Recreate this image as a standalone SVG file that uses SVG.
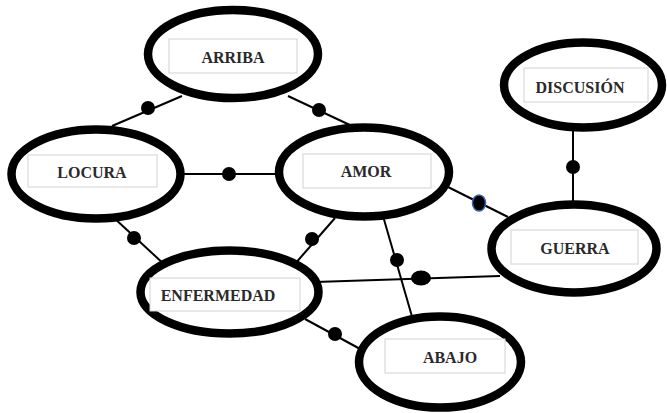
<svg xmlns="http://www.w3.org/2000/svg" width="667" height="413" viewBox="0 0 667 413">
  <style>
    .edge { stroke: #000; stroke-width: 2; fill: none; }
    .dot { fill: #000; }
    .dot-sel { fill: #000; stroke: #3b63b5; stroke-width: 1.5; }
    .ring { fill: #fff; stroke: #000; stroke-width: 8.5; }
    .box { fill: #fff; stroke: #d2d2d2; stroke-width: 1; }
    .lbl { font-family: "Liberation Serif", "DejaVu Serif", serif; font-size: 16px; font-weight: bold; fill: #2a2a2a; text-anchor: middle; }
  </style>
  <rect width="667" height="413" fill="#fff"/>

  <!-- connectors (drawn first so the node rings cover their ends) -->
  <g id="connectors">
    <line class="edge" x1="182" y1="96" x2="112" y2="126"/>
    <circle class="dot" cx="148" cy="108" r="7"/>

    <line class="edge" x1="288" y1="96" x2="352" y2="126"/>
    <circle class="dot" cx="319" cy="110" r="7"/>

    <line class="edge" x1="180" y1="174" x2="280" y2="174"/>
    <circle class="dot" cx="229" cy="174" r="7"/>

    <line class="edge" x1="113" y1="217" x2="166" y2="266"/>
    <circle class="dot" cx="134" cy="238" r="7"/>

    <line class="edge" x1="335" y1="218" x2="294" y2="265"/>
    <circle class="dot" cx="312" cy="239" r="7"/>

    <line class="edge" x1="383" y1="216" x2="413" y2="320"/>
    <circle class="dot" cx="397" cy="260" r="7"/>

    <line class="edge" x1="446" y1="186" x2="508" y2="217"/>
    <ellipse class="dot-sel" cx="479" cy="203" rx="6.5" ry="8"/>

    <line class="edge" x1="315" y1="282" x2="500" y2="276"/>
    <ellipse class="dot" cx="421" cy="278" rx="10" ry="7.5"/>

    <line class="edge" x1="305" y1="319" x2="362" y2="350"/>
    <circle class="dot" cx="335" cy="334" r="7"/>

    <line class="edge" x1="573" y1="128" x2="573" y2="206"/>
    <circle class="dot" cx="573" cy="167" r="7"/>
  </g>

  <g id="arriba">
    <ellipse class="ring" cx="233" cy="54" rx="85" ry="44"/>
    <rect class="box" x="169" y="39" width="128" height="34"/>
    <text class="lbl" x="233" y="63">ARRIBA</text>
  </g>

  <g id="locura">
    <ellipse class="ring" cx="96" cy="174" rx="84.5" ry="44.5"/>
    <rect class="box" x="28" y="155" width="129" height="32"/>
    <text class="lbl" x="92" y="178">LOCURA</text>
  </g>

  <g id="amor">
    <ellipse class="ring" cx="364" cy="172" rx="85" ry="44.5"/>
    <rect class="box" x="303" y="154" width="128" height="34"/>
    <text class="lbl" x="366" y="177">AMOR</text>
  </g>

  <g id="discusion">
    <ellipse class="ring" cx="583" cy="85" rx="79" ry="42.5"/>
    <rect class="box" x="524" y="68" width="124" height="34"/>
    <text class="lbl" x="580" y="93">DISCUSIÓN</text>
  </g>

  <g id="guerra">
    <ellipse class="ring" cx="574" cy="248.5" rx="82.5" ry="44"/>
    <rect class="box" x="511" y="230" width="127" height="34"/>
    <text class="lbl" x="575" y="254">GUERRA</text>
  </g>

  <g id="enfermedad">
    <ellipse class="ring" cx="229.5" cy="292" rx="89" ry="41.5"/>
    <rect class="box" x="150" y="278" width="150" height="33"/>
    <text class="lbl" x="218" y="301">ENFERMEDAD</text>
  </g>

  <g id="abajo">
    <ellipse class="ring" cx="440" cy="362" rx="81" ry="45.5"/>
    <rect class="box" x="385" y="339" width="120" height="34"/>
    <text class="lbl" x="450" y="363">ABAJO</text>
  </g>
</svg>
